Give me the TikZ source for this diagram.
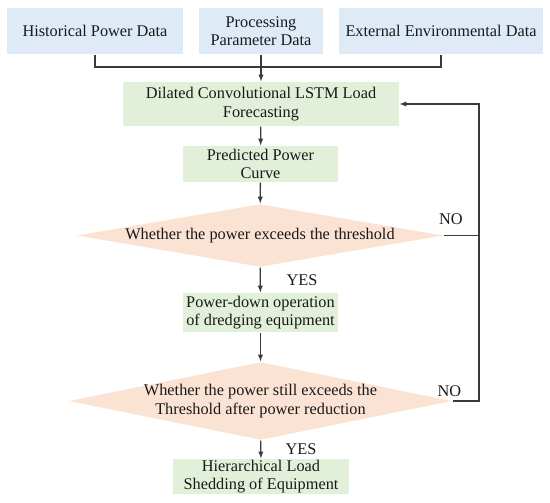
\documentclass[tikz,border=0pt]{standalone}
\usepackage{fontspec}
\setmainfont{Liberation Serif}
\usepackage{tikz}
\usetikzlibrary{shapes.geometric}
\definecolor{inblue}{HTML}{DEEBF7}
\definecolor{stepgreen}{HTML}{E2F0D9}
\definecolor{judgepeach}{HTML}{FBE3D3}
\definecolor{linegray}{HTML}{3A3A3A}
\begin{document}
\begin{tikzpicture}[x=1pt,y=-1pt,>=latex,line width=1.3pt,
  every node/.style={font=\fontsize{16.3}{18.5}\selectfont,text=black!90,align=center,inner sep=0pt},
  databox/.style={fill=inblue,minimum height=46pt},
  stepbox/.style={fill=stepgreen},
  judge/.style={diamond,fill=judgepeach}]
\useasboundingbox (0,0) rectangle (550,503);
\node[databox,minimum width=176pt] (H) at (95,31) {Historical Power Data};
\node[databox,minimum width=124pt] (P) at (261,31) {Processing\\Parameter Data};
\node[databox,minimum width=204pt] (E) at (441,31) {External Environmental Data};
\node[stepbox,minimum width=276pt,minimum height=44pt] (L) at (261,104) {Dilated Convolutional LSTM Load\\Forecasting};
\node[stepbox,minimum width=155pt,minimum height=36pt] (C) at (260.5,164) {Predicted Power\\Curve};
\node[judge,minimum width=366pt,minimum height=63pt] (J1) at (260,235.5) {};
\node at (J1) {Whether the power exceeds the threshold};
\node[stepbox,minimum width=155pt,minimum height=39pt] (D) at (260.5,312.5) {Power-down operation\\of dredging equipment};
\node[judge,minimum width=383pt,minimum height=78pt] (J2) at (260.5,401) {};
\node at (J2) {Whether the power still exceeds the\\Threshold after power reduction};
\node[stepbox,minimum width=176pt,minimum height=35pt] (S) at (261,476.5) {Hierarchical Load\\Shedding of Equipment};
\node (Y1) at (302,280) {YES};
\node (Y2) at (301,449) {YES};
\node (N1) at (451,219) {NO};
\node (N2) at (449.5,391) {NO};
\coordinate (bus) at (261,67);
\coordinate (loop) at (479,104);
\draw[draw=linegray] (H.south) |- (bus) -| (E.south);
\draw[->,draw=linegray] (P) -- (L);
\draw[->,draw=linegray] (L) -- (C);
\draw[->,draw=linegray] (C) -- (J1);
\draw[->,draw=linegray] (J1) -- (D);
\draw[->,draw=linegray] (D) -- (J2);
\draw[->,draw=linegray] (J2) -- (S);
\draw[draw=linegray] (J1.east) -- (J1.east -| loop);
\draw[->,draw=linegray] (J2.east) -| (loop) -- (L.east);
\end{tikzpicture}
\end{document}
